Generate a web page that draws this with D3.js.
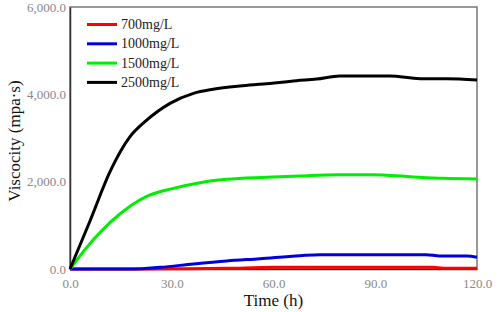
<!DOCTYPE html>
<html>
<head>
<meta charset="utf-8">
<script src="https://cdn.jsdelivr.net/npm/d3@7"></script>
<style>
  body { margin: 0; background: #fff; }
</style>
</head>
<body>
<div id="plot"></div>
<script>
// viscosity vs time
const seriesNames = ['700mg/L', '1000mg/L', '1500mg/L', '2500mg/L']
const seriesColors = ['#ff0000', '#0000dd', '#00ee00', '#000000']

const time700 = [0, 20, 30, 46, 60, 107, 110, 120]
const visc700 = [0, 0, 5, 15, 38, 38, 18, 15]

const time1000 = [0, 18.7, 26.5, 36.4, 46.2, 56, 67.8, 73.7, 105, 109, 117, 120]
const visc1000 = [0, 0, 38, 115, 183, 236, 305, 328, 328, 298, 298, 270]

const time1500 = [0, 7, 16.7, 23.6, 30.5, 38.3, 46.2, 58, 67.8, 78.6, 89.4, 100.2, 110, 120]
const visc1500 = [0, 680, 1380, 1695, 1847, 1977, 2053, 2099, 2130, 2160, 2160, 2114, 2076, 2060]

const time2500 = [0, 5.9, 11.8, 17.7, 22.1, 29.5, 36.4, 42.2, 50.1, 57, 66.8, 72.7, 79.6, 94.3, 103.2, 111, 120]
const visc2500 = [0, 1100, 2228, 3030, 3374, 3794, 4023, 4115, 4190, 4236, 4312, 4350, 4420, 4420, 4358, 4358, 4330]

const xTicks = [0, 30, 60, 90, 120]
const yTicks = [0, 2000, 4000, 6000]

const times = [time700, time1000, time1500, time2500]
const viscs = [visc700, visc1000, visc1500, visc2500]

const width = 498, height = 312
const margin = { top: 7, right: 21, bottom: 43, left: 70 }
const serif = 'Liberation Serif'

const svg = d3.select('#plot').append('svg')
  .attr('width', width)
  .attr('height', height)
  .attr('font-family', serif)

const x = d3.scaleLinear().domain([0, 120]).range([margin.left, width - margin.right])
const y = d3.scaleLinear().domain([0, 6000]).range([height - margin.bottom, margin.top])

// frame
svg.append('rect')
  .attr('x', x(0)).attr('y', y(6000))
  .attr('width', x(120) - x(0)).attr('height', y(0) - y(6000))
  .attr('fill', 'none').attr('stroke', '#777').attr('stroke-width', 1.5)

const fmt = d3.format(',.1f')

svg.append('g')
  .attr('transform', 'translate(0,' + y(0) + ')')
  .call(d3.axisBottom(x).tickValues(xTicks).tickSize(0).tickPadding(10).tickFormat(fmt))
  .attr('font-family', serif)
  .attr('font-size', 13)
  .call(g => g.select('.domain').attr('stroke', '#333').attr('stroke-width', 1.5))
  .selectAll('text')
    .attr('fill', '#888')

svg.append('g')
  .attr('transform', 'translate(' + x(0) + ',0)')
  .call(d3.axisLeft(y).tickValues(yTicks).tickSize(0).tickPadding(4).tickFormat(fmt))
  .attr('font-family', serif)
  .attr('font-size', 13)
  .call(g => g.select('.domain').attr('stroke', '#333').attr('stroke-width', 1.5))
  .selectAll('text')
    .attr('fill', '#888')

// lines
const line = d3.line()
  .x(d => x(d[0]))
  .y(d => y(d[1]))
  .curve(d3.curveMonotoneX)

seriesNames.forEach((name, i) => {
  const pts = times[i].map((t, j) => [t, viscs[i][j]])
  svg.append('path')
    .datum(pts)
    .attr('d', line)
    .attr('fill', 'none')
    .attr('stroke', seriesColors[i])
    .attr('stroke-width', 3)
})

// legend
const legend = svg.append('g').attr('transform', 'translate(87,24.5)')
seriesNames.forEach((name, i) => {
  const row = legend.append('g').attr('transform', 'translate(0,' + i * 19.3 + ')')
  row.append('line')
    .attr('x1', 0).attr('x2', 30)
    .attr('stroke', seriesColors[i]).attr('stroke-width', 3)
  row.append('text')
    .attr('x', 34).attr('y', 4.5)
    .attr('fill', '#222')
    .attr('font-size', 14)
    .text(name)
})

// axis titles
svg.append('text')
  .attr('x', (x(0) + x(120)) / 2)
  .attr('y', 306)
  .attr('text-anchor', 'middle')
  .attr('fill', '#111')
  .attr('font-size', 17)
  .text('Time (h)')

svg.append('text')
  .attr('transform', 'translate(20,' + (y(3000) + 3) + ') rotate(-90)')
  .attr('text-anchor', 'middle')
  .attr('fill', '#111')
  .attr('font-size', 17)
  .text('Viscocity (mpa·s)')
</script>
</body>
</html>
